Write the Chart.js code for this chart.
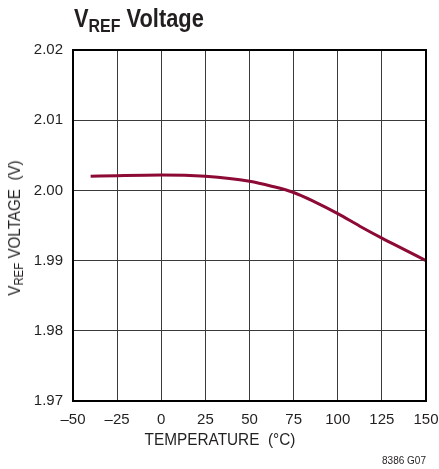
<!DOCTYPE html>
<html><head><meta charset="utf-8">
<script src="https://cdn.jsdelivr.net/npm/chart.js@4/dist/chart.umd.min.js"></script>
<style>
html,body{margin:0;padding:0;background:#fff;}
#wrap{position:relative;width:439px;height:469px;}
canvas{position:absolute;left:0;top:0;}
.t{position:absolute;font-family:"Liberation Sans",Arial,sans-serif;color:#231f20;white-space:nowrap;}
#title{left:74px;top:3px;font-size:26px;font-weight:bold;transform:scaleX(0.84);transform-origin:0 0;}
#title sub{font-size:19px;vertical-align:-5px;line-height:0;}
#ytitle{left:15px;top:228px;font-size:16px;transform:translate(-50%,-50%) rotate(-90deg) scaleX(0.95);}
#ytitle sub{font-size:12px;vertical-align:-3px;line-height:0;}
#xtitle{left:220px;top:440px;font-size:16px;transform:translate(-50%,-50%) scaleX(0.96);}
#note{right:13px;top:455px;font-size:10px;}
</style></head>
<body><div id="wrap">
<canvas id="c" width="439" height="469"></canvas>
<div class="t" id="title">V<sub>REF</sub> Voltage</div>
<div class="t" id="ytitle">V<sub>REF</sub> VOLTAGE&nbsp;&nbsp;(V)</div>
<div class="t" id="xtitle">TEMPERATURE&nbsp;&nbsp;(°C)</div>
<div class="t" id="note">8386 G07</div>
</div>
<script>
const temperature = [-40, -25, 0, 25, 50, 62.5, 75, 87.5, 100, 112.5, 125, 137.5, 150];
const vref = [2.0020, 2.0021, 2.0022, 2.0020, 2.0013, 2.0006, 1.9997, 1.9983, 1.9967, 1.9949, 1.9932, 1.9916, 1.9900];
const xTicks = [-50, -25, 0, 25, 50, 75, 100, 125, 150];
const yTicks = [1.97, 1.98, 1.99, 2.00, 2.01, 2.02];

const font = "'Liberation Sans',Arial,sans-serif";
const frame = {
  id: 'frame',
  afterDatasetsDraw(chart) {
    const a = chart.chartArea, ctx = chart.ctx;
    ctx.save();
    ctx.strokeStyle = '#000';
    ctx.lineWidth = 2;
    ctx.strokeRect(a.left, a.top, a.right - a.left, a.bottom - a.top);
    ctx.restore();
  }
};
new Chart(document.getElementById('c'), {
  type: 'line',
  data: {
    datasets: [{
      data: temperature.map((t, i) => ({x: t, y: vref[i]})),
      borderColor: '#8c0a34',
      borderWidth: 3,
      pointRadius: 0,
      cubicInterpolationMode: 'monotone',
      fill: false
    }]
  },
  options: {
    responsive: false,
    animation: false,
    events: [],
    layout: {padding: {top: 50, right: 13, left: 0, bottom: 0}},
    plugins: {legend: {display: false}, tooltip: {enabled: false}, title: {display: false}},
    scales: {
      x: {
        type: 'linear', min: -50, max: 150,
        afterBuildTicks: s => { s.ticks = xTicks.map(v => ({value: v})); },
        afterFit: s => { s.height = 68; s.paddingLeft = 0; s.paddingRight = 0; },
        grid: {color: '#3a3a3a', lineWidth: 1, tickLength: 0, drawTicks: false},
        border: {display: false},
        ticks: {
          color: '#231f20', padding: 10, maxRotation: 0,
          font: {family: font, size: 15},
          callback: v => (v < 0 ? '\u2013' + Math.abs(v) : String(v))
        }
      },
      y: {
        type: 'linear', min: 1.97, max: 2.02,
        afterBuildTicks: s => { s.ticks = yTicks.map(v => ({value: v})); },
        afterFit: s => { s.width = 73; s.paddingTop = 0; s.paddingBottom = 0; },
        grid: {color: '#3a3a3a', lineWidth: 1, tickLength: 0, drawTicks: false},
        border: {display: false},
        ticks: {
          color: '#231f20', padding: 10,
          font: {family: font, size: 15},
          callback: v => Number(v).toFixed(2)
        }
      }
    }
  },
  plugins: [frame]
});
</script>
</body></html>
